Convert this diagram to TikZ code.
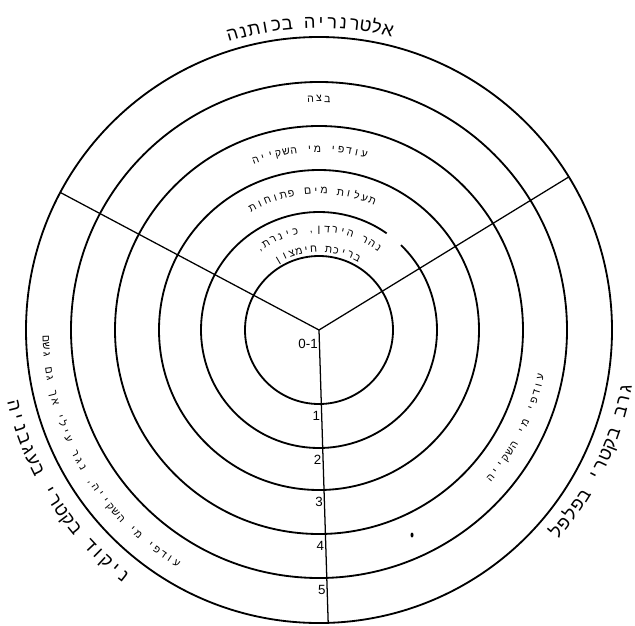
\documentclass[tikz,border=0pt]{standalone}
\usepackage{fontspec}
\setmainfont{Liberation Sans}
\newfontfamily\hebfont[Script=Hebrew]{Liberation Sans}
\usetikzlibrary{positioning}

% one letter after another along an arc: name, style, radius, first angle, step, turn, letters
\newcommand{\arclabel}[7]{%
  \foreach \ch [count=\k from 0] in {#7}
    \node[#2, rotate={#4+\k*(#5)+(#6)}] (#1-\k) at ({#4+\k*(#5)}:#3) {\ch};}

\begin{document}
\begin{tikzpicture}[x=0.025cm, y=0.025cm,
  ring/.style={line width=1.3pt},
  spoke/.style={line width=0.9pt},
  biglet/.style={font=\hebfont\fontsize{13}{13}\selectfont, inner sep=0pt, anchor=base},
  smalllet/.style={font=\hebfont\fontsize{7.5}{7.5}\selectfont, inner sep=0pt, anchor=base},
  num/.style={font=\fontsize{9.5}{10}\selectfont, inner sep=1pt, anchor=east}]
\useasboundingbox (-319,-295) rectangle (316,330);

% Rings round the centre
\coordinate (o) at (0,0);
\foreach \r in {74,160,204,248,293} \draw[ring] (o) circle (\r);
\draw[ring] (55:118) arc (55:406:118);

% Three spokes
\coordinate (sl) at (152:293);
\coordinate (sr) at (31.5:293);
\coordinate (sd) at (-88.2:293);
\draw[spoke] (o) -- (sl) (o) -- (sr) (o) -- (sd);

% Distance classes along the lower spoke
\node[num] (n0) at (-88.2:14) {0-1};
\foreach \r [count=\i] in {74,118,160,204,248}
  \node[num] (n\i) at (-88.2:{\r+12}) {\i};

% Top sector
\arclabel{top}{biglet}{302}{77.1}{2.09}{-90}{א,ל,ט,ר,נ,ר,י,ה,{},ב,כ,ו,ת,נ,ה}
\arclabel{swamp}{smalllet}{228}{87.9}{2.1}{-90}{ב,צ,ה}
\arclabel{irrtop}{smalllet}{178}{75.5}{2.5}{-90}{ע,ו,ד,פ,י,{},מ,י,{},ה,ש,ק,י,י,ה}
\arclabel{canal}{smalllet}{136}{67.5}{3.4}{-90}{ת,ע,ל,ו,ת,{},מ,י,ם,{},פ,ת,ו,ח,ו,ת}
\arclabel{river}{smalllet}{98}{54}{4.5}{-90}{נ,ה,ר,{},ה,י,ר,ד,ן,{,},{},כ,י,נ,ר,ת,{,}}
\arclabel{pond}{smalllet}{78}{62}{5.3}{-90}{ב,ר,י,כ,ת,{},ח,י,מ,צ,ו,ן}

% Right sector
\arclabel{right}{biglet}{318}{-10.9}{-2.11}{90}{ג,ר,ב,{},ב,ק,ט,ר,י,{},ב,פ,ל,פ,ל}
\arclabel{irrright}{smalllet}{229.5}{-12}{-2.05}{90}{ע,ו,ד,פ,י,{},מ,י,{},ה,ש,ק,י,י,ה}
\fill (93,-205) ellipse (1.5 and 2.5);

% Left sector
\arclabel{left}{biglet}{320}{231.6}{-2.09}{90}{נ,י,ק,ו,ד,{},ב,ק,ט,ר,י,{},ב,ע,ג,ב,נ,י,ה}
\arclabel{irrleft}{smalllet}{276.5}{238.6}{-1.67}{90}{ע,ו,ד,פ,י,{},מ,י,{},ה,ש,ק,י,י,ה,{,},{},נ,ג,ר,{},ע,י,ל,י,{},א,ך,{},ג,ם,{},ג,ש,ם}
\end{tikzpicture}
\end{document}
